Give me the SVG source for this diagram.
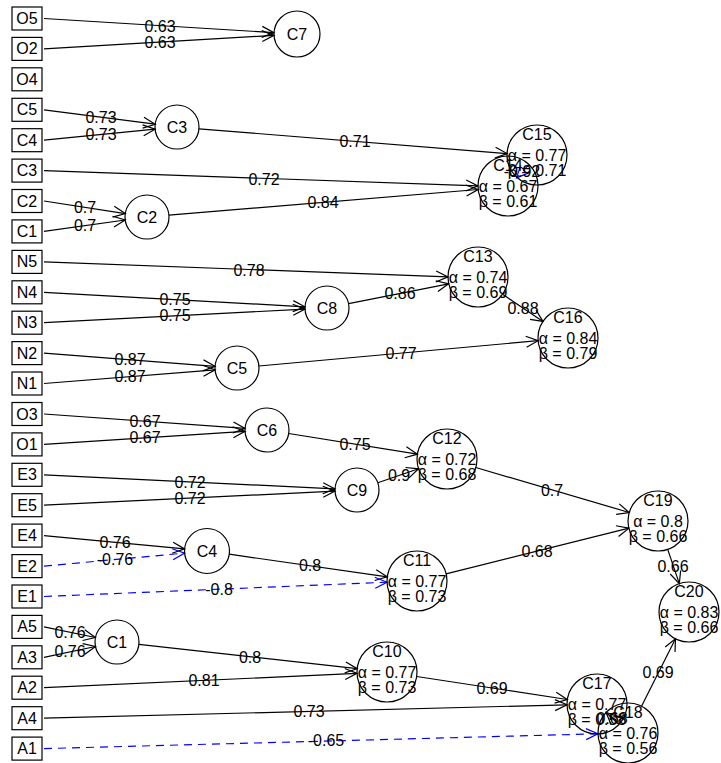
<svg xmlns="http://www.w3.org/2000/svg" width="721" height="763" viewBox="0 0 721 763">
<defs>
<style>
text{font-family:"Liberation Sans",Arial,sans-serif;font-size:16px;fill:#000;text-anchor:middle}
.box{fill:none;stroke:#000;stroke-width:1.2}
.circ{fill:none;stroke:#000;stroke-width:1.2}
.e{stroke:#000;stroke-width:1.2;fill:none;marker-end:url(#ah)}
.eb{stroke:#0000FF;stroke-width:1.2;fill:none;stroke-dasharray:8,6;marker-end:url(#ahb)}
</style>
<marker id="ah" viewBox="-14 -8 16 16" refX="0" refY="0" markerWidth="16" markerHeight="16" markerUnits="userSpaceOnUse" orient="auto"><path d="M-12,-5.5 L0,0 L-12,5.5" fill="none" stroke="#000" stroke-width="1.2"/></marker>
<marker id="ahb" viewBox="-14 -8 16 16" refX="0" refY="0" markerWidth="16" markerHeight="16" markerUnits="userSpaceOnUse" orient="auto"><path d="M-12,-5.5 L0,0 L-12,5.5" fill="none" stroke="#0000FF" stroke-width="1.2" stroke-dasharray="none"/></marker>
</defs>
<rect width="721" height="763" fill="#fff"/>
<g id="connectors">
<line class="e" x1="44" y1="18.5" x2="274" y2="32.6"/>
<line class="e" x1="44" y1="48.9" x2="274" y2="35.4"/>
<line class="e" x1="44" y1="109.8" x2="155.2" y2="124.2"/>
<line class="e" x1="44" y1="140.2" x2="155.1" y2="129.2"/>
<line class="e" x1="44" y1="170.6" x2="478" y2="185.9"/>
<line class="e" x1="44" y1="201" x2="125.3" y2="213.6"/>
<line class="e" x1="44" y1="231.4" x2="125.2" y2="220"/>
<line class="e" x1="198.9" y1="128.8" x2="507.1" y2="153.6"/>
<line class="e" x1="168.9" y1="215.2" x2="478.1" y2="189.5"/>
<line class="e" x1="44" y1="261.9" x2="448" y2="276.9"/>
<line class="e" x1="44" y1="292.3" x2="305" y2="306.8"/>
<line class="e" x1="44" y1="322.7" x2="305" y2="309.1"/>
<line class="e" x1="348.6" y1="303.7" x2="448.6" y2="283.8"/>
<line class="e" x1="503" y1="294.6" x2="543" y2="321.4"/>
<line class="e" x1="44" y1="353.1" x2="215.1" y2="366.3"/>
<line class="e" x1="44" y1="383.5" x2="215.1" y2="369.8"/>
<line class="e" x1="258.9" y1="366" x2="538.1" y2="340.7"/>
<line class="e" x1="44" y1="414" x2="245.1" y2="428.4"/>
<line class="e" x1="44" y1="444.4" x2="245" y2="431.4"/>
<line class="e" x1="288.7" y1="433.5" x2="417.4" y2="454.2"/>
<line class="e" x1="44" y1="474.8" x2="335" y2="488.9"/>
<line class="e" x1="44" y1="505.2" x2="335" y2="491.1"/>
<line class="e" x1="377.8" y1="482.8" x2="418.6" y2="468.8"/>
<line class="e" x1="475.8" y1="467.5" x2="629.2" y2="512.5"/>
<line class="e" x1="44" y1="535.6" x2="184.6" y2="548.9"/>
<line class="eb" x1="44" y1="566.1" x2="184.6" y2="553.1"/>
<line class="e" x1="229.3" y1="554.2" x2="387.3" y2="576.8"/>
<line class="eb" x1="44" y1="596.5" x2="387" y2="582.2"/>
<line class="e" x1="446.1" y1="573.8" x2="628.9" y2="528.2"/>
<line class="e" x1="667.7" y1="549.4" x2="679.3" y2="583.6"/>
<line class="e" x1="44" y1="626.9" x2="95.4" y2="637.5"/>
<line class="e" x1="44" y1="657.3" x2="95.5" y2="646.5"/>
<line class="e" x1="138.9" y1="644.4" x2="357.2" y2="668.7"/>
<line class="e" x1="44" y1="687.7" x2="357" y2="673.4"/>
<line class="e" x1="416.7" y1="676.5" x2="567.3" y2="699.5"/>
<line class="e" x1="44" y1="718.2" x2="567" y2="704.8"/>
<line class="eb" x1="44" y1="748.6" x2="598" y2="733.8"/>
<line class="e" x1="641.5" y1="706.2" x2="675.5" y2="638.8"/>
<line class="e" x1="619" y1="724.5" x2="606.1" y2="712.5"/>
<line class="eb" x1="528.5" y1="165.1" x2="516.5" y2="177.9"/>
<g id="edge-labels">
<text x="160" y="32">0.63</text>
<text x="160" y="48">0.63</text>
<text x="101" y="123">0.73</text>
<text x="101" y="140">0.73</text>
<text x="264" y="185">0.72</text>
<text x="85" y="213">0.7</text>
<text x="85" y="231">0.7</text>
<text x="355" y="147">0.71</text>
<text x="323" y="208">0.84</text>
<text x="249" y="276">0.78</text>
<text x="175" y="305">0.75</text>
<text x="175" y="321">0.75</text>
<text x="400" y="299">0.86</text>
<text x="523" y="314">0.88</text>
<text x="130" y="365">0.87</text>
<text x="130" y="382">0.87</text>
<text x="401" y="359">0.77</text>
<text x="145" y="427">0.67</text>
<text x="145" y="443">0.67</text>
<text x="355" y="450">0.75</text>
<text x="190" y="488">0.72</text>
<text x="190" y="504">0.72</text>
<text x="399" y="481">0.9</text>
<text x="552" y="496">0.7</text>
<text x="115" y="548">0.76</text>
<text x="115" y="565">-0.76</text>
<text x="310" y="571">0.8</text>
<text x="219" y="595">-0.8</text>
<text x="537" y="557">0.68</text>
<text x="673" y="572">0.66</text>
<text x="70" y="638">0.76</text>
<text x="70" y="657">0.76</text>
<text x="250" y="663">0.8</text>
<text x="204" y="686">0.81</text>
<text x="492" y="694">0.69</text>
<text x="309" y="717">0.73</text>
<text x="326" y="746">-0.65</text>
<text x="658" y="678">0.69</text>
<text x="612" y="724">0.68</text>
<text x="522" y="177">-0.92</text>
</g>
</g>
<g id="node-O5"><rect class="box" x="12" y="7" width="30" height="23"/><text x="27" y="24">O5</text></g>
<g id="node-O2"><rect class="box" x="12" y="37.4" width="30" height="23"/><text x="27" y="54.4">O2</text></g>
<g id="node-O4"><rect class="box" x="12" y="67.8" width="30" height="23"/><text x="27" y="84.8">O4</text></g>
<g id="node-C5i"><rect class="box" x="12" y="98.3" width="30" height="23"/><text x="27" y="115.3">C5</text></g>
<g id="node-C4i"><rect class="box" x="12" y="128.7" width="30" height="23"/><text x="27" y="145.7">C4</text></g>
<g id="node-C3i"><rect class="box" x="12" y="159.1" width="30" height="23"/><text x="27" y="176.1">C3</text></g>
<g id="node-C2i"><rect class="box" x="12" y="189.5" width="30" height="23"/><text x="27" y="206.5">C2</text></g>
<g id="node-C1i"><rect class="box" x="12" y="219.9" width="30" height="23"/><text x="27" y="236.9">C1</text></g>
<g id="node-N5"><rect class="box" x="12" y="250.4" width="30" height="23"/><text x="27" y="267.4">N5</text></g>
<g id="node-N4"><rect class="box" x="12" y="280.8" width="30" height="23"/><text x="27" y="297.8">N4</text></g>
<g id="node-N3"><rect class="box" x="12" y="311.2" width="30" height="23"/><text x="27" y="328.2">N3</text></g>
<g id="node-N2"><rect class="box" x="12" y="341.6" width="30" height="23"/><text x="27" y="358.6">N2</text></g>
<g id="node-N1"><rect class="box" x="12" y="372" width="30" height="23"/><text x="27" y="389">N1</text></g>
<g id="node-O3"><rect class="box" x="12" y="402.5" width="30" height="23"/><text x="27" y="419.5">O3</text></g>
<g id="node-O1"><rect class="box" x="12" y="432.9" width="30" height="23"/><text x="27" y="449.9">O1</text></g>
<g id="node-E3"><rect class="box" x="12" y="463.3" width="30" height="23"/><text x="27" y="480.3">E3</text></g>
<g id="node-E5"><rect class="box" x="12" y="493.7" width="30" height="23"/><text x="27" y="510.7">E5</text></g>
<g id="node-E4"><rect class="box" x="12" y="524.1" width="30" height="23"/><text x="27" y="541.1">E4</text></g>
<g id="node-E2"><rect class="box" x="12" y="554.6" width="30" height="23"/><text x="27" y="571.6">E2</text></g>
<g id="node-E1"><rect class="box" x="12" y="585" width="30" height="23"/><text x="27" y="602">E1</text></g>
<g id="node-A5"><rect class="box" x="12" y="615.4" width="30" height="23"/><text x="27" y="632.4">A5</text></g>
<g id="node-A3"><rect class="box" x="12" y="645.8" width="30" height="23"/><text x="27" y="662.8">A3</text></g>
<g id="node-A2"><rect class="box" x="12" y="676.2" width="30" height="23"/><text x="27" y="693.2">A2</text></g>
<g id="node-A4"><rect class="box" x="12" y="706.7" width="30" height="23"/><text x="27" y="723.7">A4</text></g>
<g id="node-A1"><rect class="box" x="12" y="737.1" width="30" height="23"/><text x="27" y="754.1">A1</text></g>
<g id="node-C7"><circle class="circ" cx="297" cy="34" r="23"/><text x="297" y="39.5">C7</text></g>
<g id="node-C3"><circle class="circ" cx="177" cy="127" r="22"/><text x="177" y="132.5">C3</text></g>
<g id="node-C2"><circle class="circ" cx="147" cy="217" r="22"/><text x="147" y="222.5">C2</text></g>
<g id="node-C8"><circle class="circ" cx="327" cy="308" r="22"/><text x="327" y="313.5">C8</text></g>
<g id="node-C5"><circle class="circ" cx="237" cy="368" r="22"/><text x="237" y="373.5">C5</text></g>
<g id="node-C6"><circle class="circ" cx="267" cy="430" r="22"/><text x="267" y="435.5">C6</text></g>
<g id="node-C9"><circle class="circ" cx="357" cy="490" r="22"/><text x="357" y="495.5">C9</text></g>
<g id="node-C4"><circle class="circ" cx="207" cy="551" r="22.5"/><text x="207" y="556.5">C4</text></g>
<g id="node-C1"><circle class="circ" cx="117" cy="642" r="22"/><text x="117" y="647.5">C1</text></g>
<g id="node-C14"><circle class="circ" cx="508" cy="186" r="30"/><text x="508" y="171">C14</text><text x="508" y="192">α = 0.67</text><text x="508" y="207">β = 0.61</text></g>
<g id="node-C15"><circle class="circ" cx="537" cy="155" r="30"/><text x="537" y="140">C15</text><text x="537" y="161">α = 0.77</text><text x="537" y="176">β = 0.71</text></g>
<g id="node-C13"><circle class="circ" cx="478" cy="277" r="30"/><text x="478" y="262">C13</text><text x="478" y="283">α = 0.74</text><text x="478" y="298">β = 0.69</text></g>
<g id="node-C16"><circle class="circ" cx="568" cy="338" r="30"/><text x="568" y="323">C16</text><text x="568" y="344">α = 0.84</text><text x="568" y="359">β = 0.79</text></g>
<g id="node-C12"><circle class="circ" cx="447" cy="459" r="30"/><text x="447" y="444">C12</text><text x="447" y="465">α = 0.72</text><text x="447" y="480">β = 0.68</text></g>
<g id="node-C19"><circle class="circ" cx="658" cy="521" r="30"/><text x="658" y="506">C19</text><text x="658" y="527">α = 0.8</text><text x="658" y="542">β = 0.66</text></g>
<g id="node-C11"><circle class="circ" cx="417" cy="581" r="30"/><text x="417" y="566">C11</text><text x="417" y="587">α = 0.77</text><text x="417" y="602">β = 0.73</text></g>
<g id="node-C20"><circle class="circ" cx="689" cy="612" r="30"/><text x="689" y="597">C20</text><text x="689" y="618">α = 0.83</text><text x="689" y="633">β = 0.66</text></g>
<g id="node-C10"><circle class="circ" cx="387" cy="672" r="30"/><text x="387" y="657">C10</text><text x="387" y="678">α = 0.77</text><text x="387" y="693">β = 0.73</text></g>
<g id="node-C17"><circle class="circ" cx="597" cy="704" r="30"/><text x="597" y="689">C17</text><text x="597" y="710">α = 0.77</text><text x="597" y="725">β = 0.58</text></g>
<g id="node-C18"><circle class="circ" cx="628" cy="733" r="30"/><text x="628" y="718">C18</text><text x="628" y="739">α = 0.76</text><text x="628" y="754">β = 0.56</text></g>
</svg>
